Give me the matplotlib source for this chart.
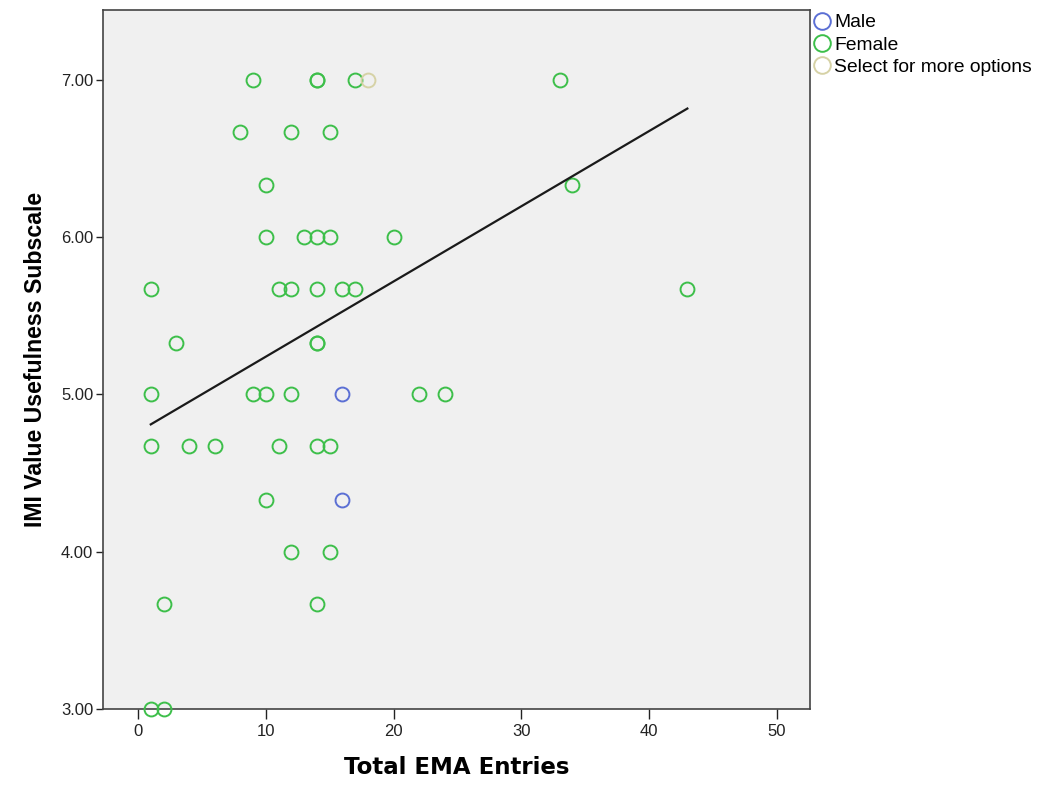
import numpy as np
import matplotlib
matplotlib.use("Agg")
import matplotlib.pyplot as plt
from matplotlib.lines import Line2D

plt.rcParams['font.family'] = ['Liberation Sans Narrow', 'Liberation Sans', 'DejaVu Sans']

# Total EMA entries (x) and IMI usefulness score (y) per participant
female_x = [9, 14, 14, 17, 33,
            8, 12, 15,
            10, 34,
            10, 13, 14, 15, 20,
            1, 11, 12, 14, 16, 17, 43,
            3, 14, 14,
            1, 9, 10, 12, 22, 24,
            1, 4, 6, 11, 14, 15,
            10,
            12, 15,
            2, 14,
            1, 2]
female_y = [7.00, 7.00, 7.00, 7.00, 7.00,
            6.67, 6.67, 6.67,
            6.33, 6.33,
            6.00, 6.00, 6.00, 6.00, 6.00,
            5.67, 5.67, 5.67, 5.67, 5.67, 5.67, 5.67,
            5.33, 5.33, 5.33,
            5.00, 5.00, 5.00, 5.00, 5.00, 5.00,
            4.67, 4.67, 4.67, 4.67, 4.67, 4.67,
            4.33,
            4.00, 4.00,
            3.67, 3.67,
            3.00, 3.00]
male_x = [16, 16]
male_y = [5.00, 4.33]
other_x = [18]
other_y = [7.00]

y_ticks = [3.0, 4.0, 5.0, 6.0, 7.0]
x_ticks = [0, 10, 20, 30, 40, 50]

male_color = '#5b6fd4'
female_color = '#3dbf4a'
other_color = '#d6d2a6'

fig = plt.figure(figsize=(10.38, 7.85), dpi=100)
ax = fig.add_axes([103 / 1038, 1 - 709 / 785, (810 - 103) / 1038, (709 - 10) / 785])
ax.set_facecolor('#f0f0f0')

ms = 10
mew = 1.4
ax.plot(female_x, female_y, 'o', ms=ms, mfc='none', mec=female_color, mew=mew, clip_on=False, zorder=3)
ax.plot(male_x, male_y, 'o', ms=ms, mfc='none', mec=male_color, mew=mew, clip_on=False, zorder=3)
ax.plot(other_x, other_y, 'o', ms=ms, mfc='none', mec=other_color, mew=mew, clip_on=False, zorder=3)

# Linear fit over all participants
all_x = np.array(female_x + male_x + other_x, dtype=float)
all_y = np.array(female_y + male_y + other_y, dtype=float)
slope, intercept = np.polyfit(all_x, all_y, 1)
xs = np.array([all_x.min(), all_x.max()])
ax.plot(xs, intercept + slope * xs, color='#1a1a1a', lw=1.6, zorder=4)

ax.set_xlim(-2.74, 52.6)
ax.set_ylim(3.0, 7.445)
ax.set_xticks(x_ticks)
ax.set_xticklabels([str(t) for t in x_ticks])
ax.set_yticks(y_ticks)
ax.set_yticklabels([f'{t:.2f}' for t in y_ticks])
ax.tick_params(axis='x', direction='out', length=7, width=1, colors='#222222', labelsize=12, pad=4)
ax.tick_params(axis='y', direction='out', length=5, width=1, colors='#222222', labelsize=12, pad=2)
for s in ax.spines.values():
    s.set_color('#444444')
    s.set_linewidth(1.2)

ax.set_xlabel('Total EMA Entries', fontsize=16.5, fontweight='bold', labelpad=12,
              family=['DejaVu Sans'])
ax.set_ylabel('IMI Value Usefulness Subscale', fontsize=16.7, fontweight='bold', labelpad=10,
              family=['Liberation Sans', 'DejaVu Sans'])

handles = [
    Line2D([], [], ls='none', marker='o', ms=12, mfc='none', mec=male_color, mew=1.4, label='Male'),
    Line2D([], [], ls='none', marker='o', ms=12, mfc='none', mec=female_color, mew=1.4, label='Female'),
    Line2D([], [], ls='none', marker='o', ms=12, mfc='none', mec=other_color, mew=1.4, label='Select for more options'),
]
fig.legend(handles=handles, loc='upper left', bbox_to_anchor=(808 / 1038, 1 - 10 / 785),
           frameon=False, handletextpad=0.05, labelspacing=0.25,
           handlelength=1.1, borderpad=0.2, borderaxespad=0,
           prop={'family': ['Liberation Sans', 'DejaVu Sans'], 'size': 13.9})

fig.savefig('out.png', dpi=100)
